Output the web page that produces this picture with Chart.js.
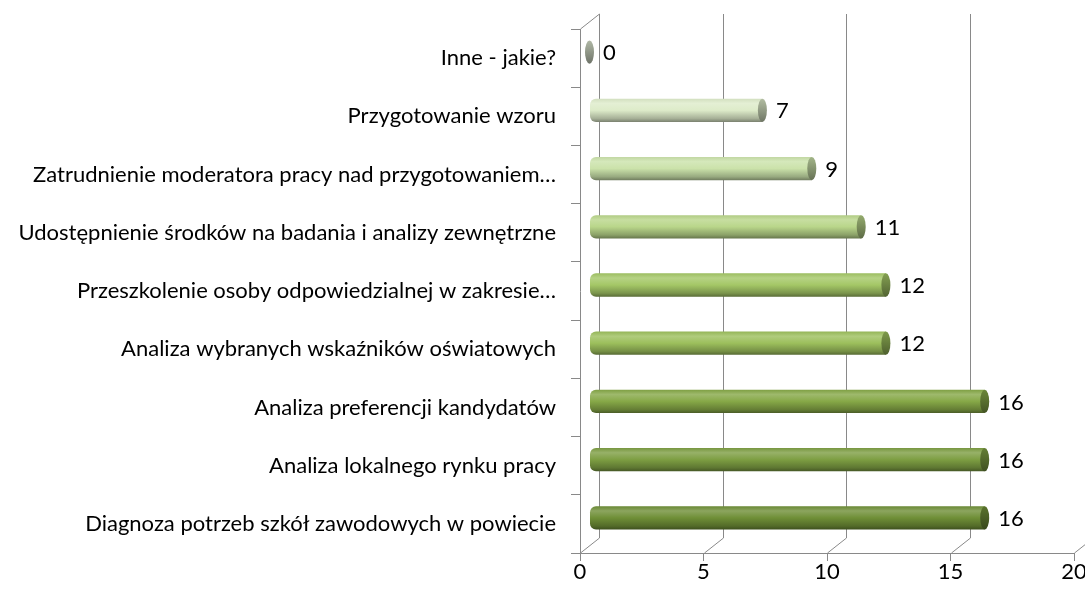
<!DOCTYPE html>
<html>
<head>
<meta charset="utf-8">
<script src="https://cdn.jsdelivr.net/npm/chart.js@4/dist/chart.umd.min.js"></script>
<style>
  html, body { margin: 0; padding: 0; background: #fff; }
  canvas { display: block; }
</style>
</head>
<body>
<canvas id="myChart" width="1085" height="592"></canvas>
<script>
// data, top row first
const categories = [
    'Inne - jakie?',
    'Przygotowanie wzoru',
    'Zatrudnienie moderatora pracy nad przygotowaniem…',
    'Udostępnienie środków na badania i analizy zewnętrzne',
    'Przeszkolenie osoby odpowiedzialnej w zakresie…',
    'Analiza wybranych wskaźników oświatowych',
    'Analiza preferencji kandydatów',
    'Analiza lokalnego rynku pracy',
    'Diagnoza potrzeb szkół zawodowych w powiecie'
];
const values = [0, 7, 9, 11, 12, 12, 16, 16, 16];
const barColors = ['#DCE6CF', '#DDEBC9', '#CBE2AA', '#B9D68A', '#A4C766', '#9CBF5C', '#86A847', '#7D9E42', '#6F8F37'];
const xTicks = [0, 5, 10, 15, 20];

// 3d depth of the plot box
const DX = 19;
const DY = 15;
const lineColor = '#898989';
const labelFont = { family: 'Lato', size: 22 };

function shade(hex, f) {
    let r = parseInt(hex.substr(1, 2), 16);
    let g = parseInt(hex.substr(3, 2), 16);
    let b = parseInt(hex.substr(5, 2), 16);
    let t = f < 0 ? 0 : 255;
    let p = Math.abs(f);
    r = Math.round((t - r) * p + r);
    g = Math.round((t - g) * p + g);
    b = Math.round((t - b) * p + b);
    return 'rgb(' + r + ',' + g + ',' + b + ')';
}

function barHalf(chart) {
    let area = chart.chartArea;
    return area.height / categories.length * 0.4 / 2;
}

function bodyGradient(ctx) {
    let chart = ctx.chart;
    let base = barColors[ctx.dataIndex];
    if (!chart.chartArea) return base;
    let yc = chart.scales.y.getPixelForValue(ctx.dataIndex);
    let h = barHalf(chart);
    let g = chart.ctx.createLinearGradient(0, yc - h, 0, yc + h);
    g.addColorStop(0, shade(base, -0.05));
    g.addColorStop(0.2, shade(base, 0.2));
    g.addColorStop(0.5, base);
    g.addColorStop(0.85, shade(base, -0.25));
    g.addColorStop(1, shade(base, -0.45));
    return g;
}

function line(ctx, x1, y1, x2, y2) {
    ctx.beginPath();
    ctx.moveTo(x1, y1);
    ctx.lineTo(x2, y2);
    ctx.stroke();
}

const depthPlugin = {
    id: 'depth',
    beforeDatasetsDraw(chart) {
        let ctx = chart.ctx;
        let { left, top, bottom } = chart.chartArea;
        let xs = chart.scales.x;
        ctx.save();
        ctx.strokeStyle = lineColor;
        ctx.lineWidth = 1;
        let l = Math.round(left) + 0.5;
        line(ctx, l, top, l + DX, top - DY);
        xTicks.forEach(v => {
            let px = Math.round(xs.getPixelForValue(v)) + 0.5;
            line(ctx, px + DX, top - DY, px + DX, bottom - DY);
            line(ctx, px, bottom, px + DX, bottom - DY);
        });
        ctx.restore();
        // bars sit half way into the box
        ctx.save();
        ctx.translate(DX / 2, -6);
    },
    afterDatasetsDraw(chart) {
        let ctx = chart.ctx;
        let meta = chart.getDatasetMeta(0);
        let h = barHalf(chart);
        meta.data.forEach((bar, i) => {
            let base = barColors[i];
            let g = ctx.createLinearGradient(0, bar.y - h, 0, bar.y + h);
            g.addColorStop(0, shade(base, -0.2));
            g.addColorStop(0.35, shade(base, -0.3));
            g.addColorStop(1, shade(base, -0.5));
            ctx.beginPath();
            ctx.ellipse(bar.x, bar.y, 4.5, h, 0, 0, Math.PI * 2);
            ctx.fillStyle = g;
            ctx.fill();

            ctx.fillStyle = '#000';
            ctx.font = labelFont.size + 'px ' + labelFont.family;
            ctx.textAlign = 'left';
            ctx.textBaseline = 'middle';
            ctx.fillText(String(values[i]), bar.x + 13.5, bar.y + 1);
        });
        ctx.restore();
    }
};

const ctx = document.getElementById('myChart').getContext('2d');
const myChart = new Chart(ctx, {
    type: 'bar',
    data: {
        labels: categories,
        datasets: [{
            data: values,
            backgroundColor: bodyGradient,
            borderWidth: 0,
            borderSkipped: false,
            borderRadius: { topLeft: 6, bottomLeft: 6, topRight: 0, bottomRight: 0 },
            barPercentage: 0.4,
            categoryPercentage: 1,
            clip: false
        }]
    },
    options: {
        indexAxis: 'y',
        responsive: false,
        animation: false,
        devicePixelRatio: 1,
        layout: { padding: { top: 29, right: 11, left: 0, bottom: 0 } },
        plugins: {
            legend: { display: false },
            tooltip: { enabled: false }
        },
        scales: {
            x: {
                min: xTicks[0],
                max: xTicks[xTicks.length - 1],
                ticks: { stepSize: 5, padding: -2, color: '#000', font: labelFont, maxRotation: 0 },
                grid: { drawOnChartArea: false, tickLength: 8, color: lineColor },
                border: { color: lineColor },
                afterFit: s => { s.height = 39; s.paddingLeft = 0; s.paddingRight = 0; }
            },
            y: {
                ticks: { padding: 15, color: '#000', font: labelFont, autoSkip: false },
                grid: { drawOnChartArea: false, tickLength: 9, color: lineColor, offset: true },
                border: { color: lineColor },
                afterFit: s => { s.width = 580; }
            }
        }
    },
    plugins: [depthPlugin]
});
</script>
</body>
</html>
